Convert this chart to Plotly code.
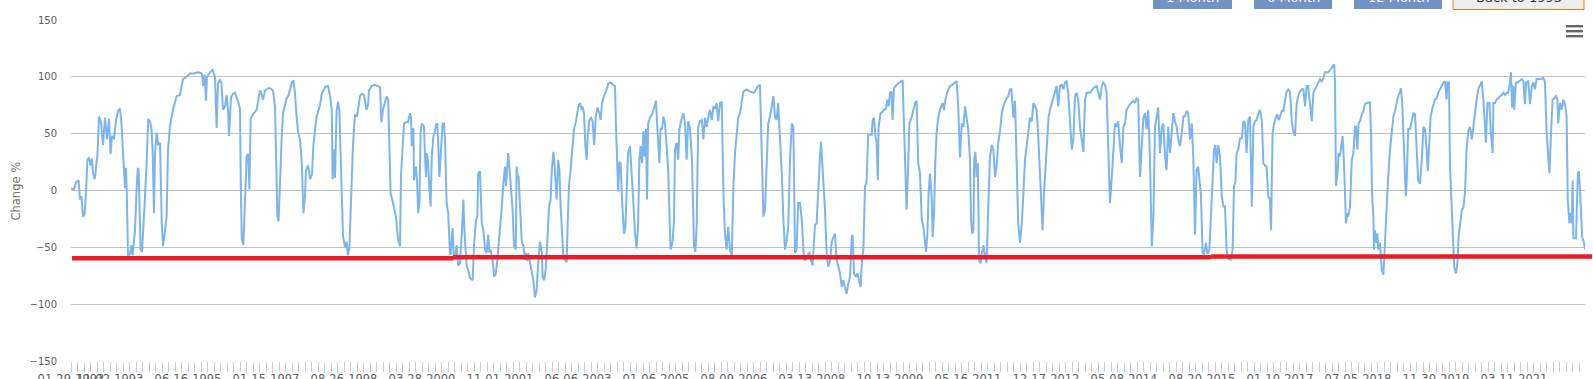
import plotly.graph_objects as go

# ---------------- data (trading-session index, % change) ----------------
sessions_1993_1998 = [
    0, 15, 25, 38, 45, 52, 60, 68, 75, 82,
    90, 98, 105, 110, 118, 122, 128, 132, 140, 150,
    160, 170, 180, 190, 198, 205, 215, 225, 235, 245,
    252, 258, 262, 270, 275, 279, 285, 295, 302, 308,
    315, 320, 328, 334, 338, 342, 348, 355, 362, 370,
    378, 382, 386, 395, 402, 408, 415, 420, 428, 436,
    445, 454, 460, 470, 478, 485, 495, 510, 528, 545,
    554, 560, 578, 595, 615, 635, 654, 662, 668, 675,
    680, 695, 708, 720, 728, 735, 745, 752, 760, 770,
    778, 785, 790, 800, 810, 820, 832, 845, 849, 854,
    862, 870, 878, 886, 892, 898, 910, 928, 935, 945,
    952, 960, 970, 985, 995, 1010, 1020, 1028, 1032, 1038,
    1045, 1052, 1060, 1070, 1078, 1088, 1095, 1104, 1112, 1120,
    1128, 1135, 1145, 1154, 1162, 1170, 1175, 1186, 1195, 1205,
    1212, 1220, 1228, 1245, 1254, 1270, 1285, 1295, 1304, 1308,
    1315, 1320, 1328, 1335, 1342, 1350, 1360, 1370, 1378, 1385,
    1392, 1400, 1410, 1420, 1430, 1445, 1454, 1465, 1478, 1485,
    1490, 1504, 1520, 1545, 1552, 1560, 1570, 1578, 1586, 1592,
    1598, 1610, 1625, 1635, 1645,
]
change_1993_1998 = [
    2, 1, 7, 9, -8, -5, -23, -21, -2, 27,
    29, 22, 28, 15, 10, 14, 26, 30, 65, 60,
    40, 64, 45, 63, 32, 48, 45, 62, 70, 72,
    60, 40, 18, 2, 20, -2, -58, -56, -48, -57,
    -45, -35, 2, 20, 18, -10, -52, -54, -34, -5,
    24, 45, 63, 61, 55, 36, -20, 32, 51, 40,
    42, -29, -49, -35, -23, 36, 57, 71, 83, 84,
    95, 98, 100, 103, 103, 104, 103, 92, 102, 79,
    100, 104, 106, 100, 55, 94, 97, 95, 71, 74,
    84, 71, 48, 82, 85, 86, 80, 72, 4, -43,
    -48, -5, 30, 32, 1, 63, 67, 71, 80, 88,
    85, 80, 88, 90, 90, 88, 74, 20, -23, -27,
    10, 40, 68, 77, 81, 84, 90, 95, 97, 85,
    65, 52, 45, 24, -20, -5, 18, 22, 10, 14,
    40, 55, 65, 75, 85, 91, 92, 83, 71, 10,
    36, 11, 70, 78, 70, 20, -40, -50, -45, -57,
    -50, -10, 40, 67, 65, 83, 85, 84, 71, 75,
    88, 92, 93, 91, 60, 71, 77, 83, 80, 40,
    -2, -11, -23, -43, -49,
]

sessions_1999_2007 = [
    1650, 1658, 1665, 1675, 1685, 1695, 1700, 1704, 1712, 1715,
    1725, 1730, 1736, 1742, 1748, 1754, 1765, 1770, 1775, 1778,
    1785, 1792, 1798, 1804, 1812, 1820, 1825, 1832, 1836, 1842,
    1848, 1858, 1865, 1870, 1878, 1886, 1895, 1898, 1908, 1915,
    1922, 1928, 1936, 1945, 1954, 1962, 1966, 1974, 1978, 1986,
    1995, 2008, 2015, 2025, 2032, 2036, 2045, 2054, 2062, 2070,
    2078, 2086, 2092, 2098, 2108, 2116, 2124, 2132, 2140, 2148,
    2154, 2162, 2170, 2175, 2182, 2186, 2192, 2198, 2208, 2215,
    2224, 2228, 2234, 2238, 2245, 2254, 2262, 2270, 2275, 2282,
    2286, 2295, 2304, 2312, 2320, 2328, 2336, 2345, 2354, 2358,
    2366, 2375, 2382, 2390, 2398, 2404, 2412, 2416, 2424, 2428,
    2436, 2442, 2448, 2456, 2462, 2470, 2478, 2484, 2490, 2498,
    2508, 2515, 2525, 2536, 2545, 2554, 2558, 2565, 2572, 2578,
    2584, 2592, 2600, 2608, 2616, 2624, 2632, 2642, 2648, 2655,
    2665, 2675, 2686, 2698, 2712, 2720, 2725, 2732, 2736, 2742,
    2748, 2756, 2765, 2772, 2778, 2785, 2795, 2804, 2812, 2820,
    2828, 2835, 2842, 2848, 2855, 2862, 2868, 2875, 2880, 2886,
    2895, 2908, 2920, 2925, 2932, 2936, 2942, 2948, 2955, 2962,
    2970, 2978, 2986, 2992, 2998, 3008, 3015, 3020, 3028, 3036,
    3042, 3054, 3062, 3070, 3078, 3086, 3095, 3105, 3115, 3122,
    3128, 3136, 3145, 3154, 3162, 3170, 3178, 3186, 3195, 3204,
    3212, 3220, 3228, 3236, 3245, 3254, 3262, 3270, 3278, 3286,
    3295, 3304, 3312, 3320, 3328, 3336, 3345, 3362, 3378, 3395,
    3412, 3420, 3428, 3436, 3445, 3450, 3456, 3462, 3470, 3478,
    3486, 3495, 3512, 3520, 3528, 3536, 3545, 3554, 3562, 3570,
    3578, 3586, 3595, 3604, 3612, 3615, 3620, 3628, 3636, 3645,
]
change_1999_2007 = [
    13, 42, 59, 60, 60, 68, 64, 39, 55, 9,
    21, 9, -20, -11, 50, 59, 56, 30, 12, 33,
    27, 1, -14, 30, 48, 52, 58, 59, 39, 12,
    30, 59, 59, 45, -11, -20, -55, -57, -33, -61,
    -58, -48, -66, -64, -38, -8, -32, -55, -66, -70,
    -77, -79, -49, -26, -23, 15, 17, -29, -35, -52,
    -55, -39, -55, -52, -61, -76, -73, -61, -44, -32,
    -14, 6, 21, 4, 27, 33, 21, 9, -17, -49,
    -52, 21, 12, 12, -14, -45, -49, -61, -55, -62,
    -55, -64, -73, -79, -94, -88, -64, -45, -55, -76,
    -79, -67, -44, -14, -8, 18, 34, 27, 4, -8,
    27, 18, -14, -44, -58, -61, -63, -26, 4, 18,
    37, 54, 61, 73, 77, 71, 74, 68, 39, 27,
    48, 62, 64, 61, 40, 65, 73, 68, 62, 77,
    83, 87, 94, 95, 93, 92, 56, 27, -1, 25,
    24, -11, -38, -32, 6, 33, 39, 15, -11, -38,
    -51, -32, 27, 39, 24, 52, 30, 54, -8, 59,
    64, 68, 77, 79, 54, 42, 24, 55, 54, 65,
    59, 39, 18, -20, -52, -45, -26, 36, 42, 27,
    54, 64, 68, 59, 27, 61, 55, 27, -49, -54,
    -32, 56, 61, 62, 45, 64, 56, 64, 71, 62,
    74, 72, 77, 61, 77, 78, -2, -38, -52, -32,
    -52, -58, 4, 33, 51, 64, 68, 87, 89, 87,
    86, 87, 90, 92, 93, 60, -2, -23, -17, 27,
    59, 65, 83, 65, 62, 77, 47, 15, -26, -52,
    -44, -32, 27, 59, 56, 27, -55, -52, -11, -11,
]

sessions_2008_2015 = [
    3654, 3660, 3665, 3675, 3682, 3692, 3698, 3708, 3715, 3720,
    3728, 3736, 3745, 3750, 3755, 3758, 3765, 3770, 3778, 3786,
    3795, 3804, 3812, 3820, 3828, 3836, 3845, 3854, 3862, 3870,
    3878, 3886, 3895, 3904, 3908, 3915, 3925, 3932, 3942, 3948,
    3955, 3962, 3970, 3978, 3986, 3995, 4004, 4008, 4015, 4022,
    4028, 4034, 4038, 4048, 4058, 4065, 4075, 4082, 4088, 4095,
    4102, 4108, 4115, 4128, 4145, 4158, 4165, 4172, 4178, 4184,
    4192, 4204, 4212, 4220, 4228, 4236, 4245, 4254, 4262, 4270,
    4275, 4282, 4288, 4295, 4304, 4308, 4315, 4322, 4328, 4336,
    4345, 4358, 4365, 4372, 4382, 4395, 4408, 4420, 4428, 4436,
    4445, 4454, 4462, 4470, 4478, 4486, 4495, 4500, 4506, 4512,
    4516, 4522, 4528, 4534, 4540, 4548, 4555, 4562, 4570, 4578,
    4586, 4595, 4604, 4612, 4620, 4628, 4636, 4645, 4654, 4665,
    4678, 4686, 4695, 4702, 4712, 4720, 4728, 4736, 4745, 4754,
    4762, 4770, 4778, 4786, 4795, 4804, 4812, 4820, 4828, 4836,
    4845, 4854, 4858, 4865, 4875, 4882, 4888, 4895, 4904, 4912,
    4920, 4928, 4936, 4945, 4954, 4962, 4970, 4978, 4986, 4995,
    5004, 5012, 5020, 5028, 5036, 5045, 5054, 5062, 5070, 5078,
    5095, 5112, 5128, 5145, 5154, 5162, 5170, 5178, 5186, 5195,
    5204, 5212, 5220, 5228, 5236, 5245, 5254, 5262, 5270, 5278,
    5295, 5312, 5320, 5328, 5336, 5345, 5354, 5362, 5370, 5378,
    5386, 5395, 5404, 5412, 5420, 5428, 5436, 5445, 5454, 5462,
    5470, 5478, 5486, 5495, 5504, 5512, 5520, 5528, 5536, 5545,
    5554, 5562, 5570, 5578, 5586, 5595, 5604, 5612, 5620, 5628,
    5636, 5645,
]
change_2008_2015 = [
    -26, -45, -61, -61, -58, -54, -61, -66, -44, -30,
    -29, 4, 30, 43, 27, 24, 4, -17, -55, -67,
    -62, -45, -41, -38, -61, -67, -73, -85, -79, -85,
    -91, -82, -76, -41, -39, -73, -76, -73, -82, -85,
    -61, -52, 4, 7, 49, 49, 49, 62, 64, 48,
    42, 9, 56, 68, 69, 71, 72, 80, 74, 86,
    87, 62, 90, 93, 95, 97, 56, 6, -17, 12,
    59, 65, 72, 77, 79, 24, 15, -26, -32, -44,
    -54, -38, -2, 15, -8, -41, -20, 27, 51, 64,
    71, 77, 71, 80, 87, 92, 93, 95, 96, 74,
    29, 59, 56, 74, 62, 54, 27, -26, -38, -35,
    27, 34, 12, 24, -61, -64, -55, -48, -58, -64,
    -17, 30, 40, 36, 12, 21, 42, 52, 68, 76,
    81, 83, 89, 89, 64, 79, 27, -29, -46, -29,
    -2, 27, 39, 51, 64, 61, 77, 74, 71, 48,
    12, -26, -35, -2, 27, 56, 65, 71, 77, 83,
    89, 92, 74, 92, 93, 89, 95, 96, 86, 62,
    36, 45, 83, 86, 80, 56, 45, 34, 80, 86,
    86, 90, 92, 80, 92, 95, 93, 86, 39, -11,
    12, 42, 59, 56, 61, 39, 24, 56, 59, 71,
    76, 79, 77, 81, 80, 12, 42, 64, 68, 54,
    71, 27, -49, -23, 56, 65, 73, 33, 56, 59,
    30, 18, 56, 33, 56, 68, 61, 56, 45, 39,
    51, 65, 65, 70, 68, 45, 59, 27, -39, 18,
    21, 6,
]

sessions_2016_2022 = [
    5650, 5658, 5665, 5675, 5682, 5692, 5700, 5708, 5715, 5722,
    5728, 5736, 5745, 5754, 5762, 5770, 5778, 5786, 5798, 5808,
    5815, 5822, 5828, 5836, 5845, 5854, 5862, 5870, 5878, 5886,
    5895, 5904, 5912, 5920, 5928, 5936, 5945, 5954, 5962, 5970,
    5978, 5986, 5995, 6000, 6008, 6015, 6025, 6032, 6038, 6045,
    6054, 6062, 6070, 6078, 6086, 6095, 6104, 6112, 6120, 6128,
    6136, 6145, 6154, 6162, 6170, 6178, 6186, 6195, 6204, 6212,
    6220, 6228, 6236, 6245, 6254, 6262, 6270, 6286, 6295, 6304,
    6312, 6316, 6320, 6325, 6332, 6338, 6345, 6354, 6358, 6365,
    6370, 6375, 6382, 6386, 6395, 6404, 6412, 6420, 6425, 6432,
    6438, 6445, 6454, 6462, 6470, 6478, 6486, 6495, 6500, 6505,
    6512, 6515, 6520, 6526, 6532, 6536, 6545, 6554, 6562, 6566,
    6572, 6578, 6586, 6595, 6604, 6612, 6620, 6628, 6636, 6645,
    6650, 6656, 6662, 6666, 6674, 6678, 6686, 6695, 6704, 6712,
    6720, 6728, 6736, 6745, 6754, 6762, 6770, 6778, 6784, 6790,
    6798, 6808, 6820, 6828, 6836, 6845, 6854, 6862, 6870, 6878,
    6882, 6890, 6895, 6904, 6912, 6916, 6925, 6932, 6938, 6945,
    6954, 6962, 6970, 6978, 6986, 6995, 7004, 7012, 7020, 7028,
    7036, 7045, 7054, 7062, 7070, 7075, 7082, 7092, 7098, 7108,
    7112, 7120, 7128, 7136, 7145, 7154, 7162, 7170, 7178, 7186,
    7195, 7200, 7205, 7212, 7216, 7225, 7234, 7242, 7254, 7262,
    7270, 7275, 7286, 7295, 7304, 7312, 7320, 7328, 7345, 7362,
    7370, 7378, 7385, 7392, 7398, 7408, 7416, 7425, 7432, 7436,
    7445, 7454, 7462, 7470, 7478, 7484, 7492, 7498, 7504, 7508,
    7512, 7525, 7534, 7540, 7548, 7556, 7565, 7570,
]
change_2016_2022 = [
    -5, -55, -56, -46, -56, -52, -23, 12, 36, 40,
    24, 40, 30, -5, -14, -14, -52, -60, -61, -52,
    4, 7, 33, 36, 46, 46, 61, 59, 33, 62,
    65, -14, 56, 61, 62, 67, 71, 62, 24, 22,
    21, -5, -8, -35, 51, 58, 65, 67, 62, 65,
    70, 70, 77, 87, 89, 87, 61, 51, 48, 76,
    83, 87, 89, 89, 74, 92, 92, 74, 61, 86,
    89, 93, 95, 98, 96, 99, 104, 104, 106, 108,
    110, 111, 95, 4, 15, 33, 30, 45, 48, 24,
    -17, -29, -20, -23, -14, 27, 33, 56, 56, 36,
    59, 61, 67, 70, 76, 77, 77, 78, 51, -2,
    -23, -52, -35, -46, -38, -52, -46, -70, -74, -58,
    -35, -11, 12, 36, 54, 65, 70, 77, 83, 87,
    90, 77, 51, 21, -5, 6, 54, 54, 61, 68,
    67, 30, 9, 6, 27, 56, 54, 36, 17, 36,
    65, 73, 80, 81, 86, 89, 92, 95, 96, 80,
    95, 95, 21, -20, -52, -67, -73, -64, -41, -32,
    -17, -15, -2, 36, 52, 56, 45, 56, 70, 80,
    89, 93, 96, 79, 55, 42, 77, 77, 54, 33,
    77, 77, 80, 81, 83, 84, 86, 84, 86, 86,
    95, 104, 73, 92, 71, 95, 95, 96, 98, 96,
    76, 95, 96, 76, 92, 95, 89, 98, 98, 99,
    95, 51, 36, 15, 42, 80, 81, 83, 80, 59,
    77, 71, 80, 76, 65, -8, -29, -20, -29, 9,
    -42, -42, 15, 17, -11, -41, -46, -52,
]

x_tick_labels = [
    "01-29-1993", "11-02-1993", "06-16-1995", "01-15-1997", "08-26-1998",
    "03-28-2000", "11-01-2001", "06-06-2003", "01-06-2005", "08-09-2006",
    "03-13-2008", "10-13-2009", "05-16-2011", "12-17-2012", "05-08-2014",
    "08-20-2015", "01-10-2017", "07-05-2018", "11-30-2019", "03-11-2021",
]
y_tick_values = [-150, -100, -50, 0, 50, 100, 150]

# hand-drawn red threshold line (three slightly different levels)
threshold_levels = [-59.6, -58.8, -58.1]

button_labels = ["1 Month", "6 Month", "12 Month", "Back to 1993"]

# ---------------- build ----------------
sessions = sessions_1993_1998 + sessions_1999_2007 + sessions_2008_2015 + sessions_2016_2022
change = change_1993_1998 + change_1999_2007 + change_2008_2015 + change_2016_2022

TOTAL_SESSIONS = 7570
LABEL_STEP = 390
FIRST_STEP_LABEL = 195
tick_positions = [0] + [FIRST_STEP_LABEL + LABEL_STEP * k for k in range(len(x_tick_labels) - 1)]

FONT = "DejaVu Sans"
W, H = 1593, 379
ML, MR, MT, MB = 71, 8, 20, 18
PW = W - ML - MR
PH = H - MT - MB


def px_x(px):
    return (px - ML) / PW


def px_y(py):
    return (H - MB - py) / PH


fig = go.Figure()
fig.add_trace(go.Scatter(
    x=sessions, y=change, mode="lines",
    line=dict(color="#7cb5ec", width=2),
    hoverinfo="skip", showlegend=False,
))

shapes = []
# red threshold segments
red_spans = [(px_x(72), px_x(453)), (px_x(453), px_x(1211)), (px_x(1211), px_x(1592))]
for (xa, xb), lvl in zip(red_spans, threshold_levels):
    shapes.append(dict(type="line", xref="paper", yref="y", x0=xa, x1=xb, y0=lvl, y1=lvl,
                       line=dict(color="#ed1c24", width=4.5), layer="above"))

# range buttons (cut off at the top of the page)
btn_px = [(1153, 1232), (1254, 1332), (1354, 1442), (1453, 1584)]
for i, (a, b) in enumerate(btn_px):
    if i < 3:
        shapes.append(dict(type="rect", xref="paper", yref="paper",
                           x0=px_x(a), x1=px_x(b), y0=px_y(9), y1=px_y(-12),
                           fillcolor="#7193c3", line=dict(width=0), layer="above"))
    else:
        shapes.append(dict(type="rect", xref="paper", yref="paper",
                           x0=px_x(a), x1=px_x(b), y0=px_y(9.5), y1=px_y(-12),
                           fillcolor="#eeeeee", line=dict(color="#f07a1f", width=1), layer="above"))

# context menu (hamburger) icon
for py in (26.2, 31.2, 36.2):
    shapes.append(dict(type="line", xref="paper", yref="paper",
                       x0=px_x(1566), x1=px_x(1583), y0=px_y(py), y1=px_y(py),
                       line=dict(color="#666666", width=2.4), layer="above"))

annotations = []
for (a, b), lab, col in zip(btn_px, button_labels, ["white", "white", "white", "#333333"]):
    annotations.append(dict(xref="paper", yref="paper", x=px_x((a + b) / 2), y=px_y(-3),
                            text=lab, showarrow=False, xanchor="center", yanchor="middle",
                            font=dict(family=FONT, size=13, color=col)))
annotations.append(dict(xref="paper", yref="paper", x=px_x(15), y=0.5, text="Change %",
                        textangle=-90, showarrow=False, xanchor="center", yanchor="middle",
                        font=dict(family=FONT, size=11.5, color="#707070")))

fig.update_layout(
    width=W, height=H,
    margin=dict(l=ML, r=MR, t=MT, b=MB, pad=0),
    paper_bgcolor="white", plot_bgcolor="white",
    showlegend=False,
    shapes=shapes, annotations=annotations,
    xaxis=dict(
        range=[0, TOTAL_SESSIONS], tickmode="array", tickvals=tick_positions, ticktext=x_tick_labels,
        tickangle=0, ticks="outside", ticklen=10, tickwidth=1, tickcolor="#c0d0e0",
        showgrid=False, zeroline=False, showline=False, automargin=False,
        ticklabelstandoff=-3,
        tickfont=dict(family=FONT, size=11.5, color="#606060"),
        minor=dict(ticks="outside", ticklen=10, tickwidth=1, tickcolor="#c0d0e0",
                   dtick=32.5, tick0=0, showgrid=False),
    ),
    yaxis=dict(
        range=[-150, 150], tickmode="array", tickvals=y_tick_values,
        ticks="", showgrid=True, gridcolor="#c0c0c0", gridwidth=1,
        zeroline=False, showline=False, automargin=False,
        ticklabelstandoff=13,
        tickfont=dict(family=FONT, size=10, color="#606060"),
    ),
)

fig.write_html("out.html")
